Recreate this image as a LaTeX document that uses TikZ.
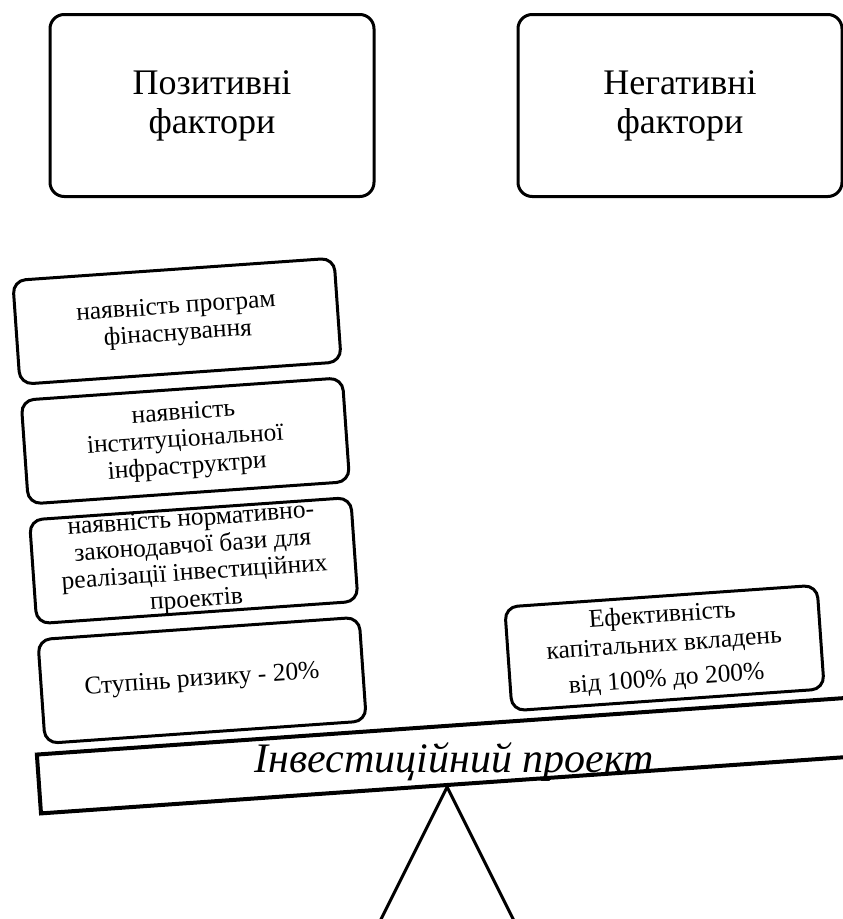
\documentclass[tikz,border=0pt]{standalone}
\usepackage{fontspec}
\setmainfont{Liberation Serif}
\usetikzlibrary{positioning}

\begin{document}
\begin{tikzpicture}[x=1pt,y=-1pt,node distance=13pt,
 head/.style={draw,line width=3pt,rounded corners=5mm,
 minimum width=324pt,minimum height=182pt,align=center,
 font=\fontsize{36}{39}\selectfont},
 factor/.style={draw,line width=3pt,rounded corners=4.5mm,
 minimum width=322pt,minimum height=104pt,align=center,inner xsep=2pt,inner ysep=0pt,
 font=\fontsize{25.5}{27}\selectfont},
 beam/.style={draw,line width=4pt,minimum width=814pt,minimum height=59pt,inner sep=0pt},
 leg/.style={line width=3pt}]
\clip (0,0) rectangle (843,919);
\node[head] (pos) at (212,105.5) {Позитивні\\фактори};
\node[head] (neg) at (680,105.5) {Негативні\\фактори};
\begin{scope}[shift={(447,785)},rotate=4,transform shape]
\node[beam] (beam) at (0,-29.5) {};
\node[factor] (risk) at (-237,-121.5) {Ступінь ризику - 20\%};
\node[factor,above=of risk] (norm) {наявність нормативно-\\законодавчої бази для\\реалізації інвестиційних\\проектів};
\node[factor,above=of norm] (infra) {наявність\\інституціональної\\інфраструктри};
\node[factor,above=of infra] (prog) {наявність програм\\фінаснування};
\node[factor,minimum width=313pt,right=143pt of risk] (eff) {Ефективність\\[2pt]капітальних вкладень\\[8pt]від 100\% до 200\%};
\end{scope}
\node[anchor=base,font=\fontsize{42}{42}\selectfont\itshape] (proj) at (454,772) {Інвестиційний проект};
\draw[leg] (beam.south) -- ++(-72,144) -- ++(144,0) -- cycle;
\end{tikzpicture}
\end{document}
